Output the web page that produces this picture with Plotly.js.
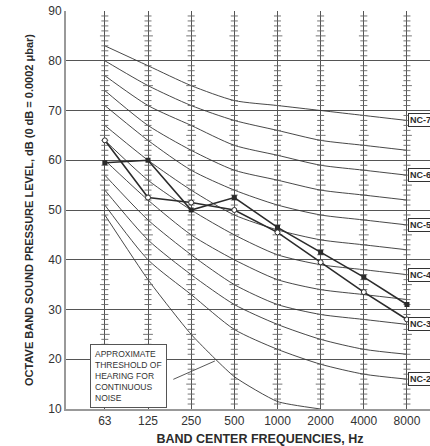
<!DOCTYPE html>
<html><head><meta charset="utf-8">
<script src="https://cdn.plot.ly/plotly-3.0.1.min.js"></script>
<style>html,body{margin:0;padding:0;overflow:hidden;background:#fff}#chart{width:455px;height:446px}</style>
</head><body><div id="chart"></div>
<script>
// Octave band centre frequencies (category labels)
const freqLabels = ['63','125','250','500','1000','2000','4000','8000'];
// NC curves (dB per band)
const nc70 = [83,79,75,72,71,70,69,68];
const nc65 = [80,75,71,68,66,64,63,62];
const nc60 = [77,71,67,63,61,59,58,57];
const nc55 = [74,67,62,58,56,54,53,52];
const nc50 = [71,64,58,54,51,49,48,47];
const nc45 = [67,60,54,49,46,44,43,42];
const nc40 = [64,56,50,45,41,39,38,37];
const nc35 = [60,52,45,40,36,34,33,32];
const nc30 = [57,48,41,35,31,29,28,27];
const nc25 = [54,44,37,31,27,24,22,21];
const nc20 = [51,40,33,26,22,19,17,16];
const ncNames = ['NC-70','NC-65','NC-60','NC-55','NC-50','NC-45','NC-40','NC-35','NC-30','NC-25','NC-20'];
const labelledNC = ['NC-70','NC-60','NC-50','NC-40','NC-30','NC-20'];
// Approximate threshold of hearing for continuous noise
const thresholdFreqs = ['63','125','250','500','1000','2000'];
const thresholdLevels = [49,36,25,16.5,11.5,10];
// Measured spectra
const measuredA = [59.5,60,50,52.5,46.5,41.5,36.5,31];   // filled markers
const measuredB = [64,52.5,51.5,50,45.5,39.5,33.5,28];   // open markers
const yTicks = [10,20,30,40,50,60,70,80,90];

const ncSets = [nc70,nc65,nc60,nc55,nc50,nc45,nc40,nc35,nc30,nc25,nc20];
const idx = f => freqLabels.indexOf(f);
const xs = freqLabels.map((f,i)=>i);
const ink = '#2b2b2b', grid = '#555';
const FONT = 'Liberation Sans, Arial, sans-serif';

const traces = [];
ncSets.forEach((arr,k)=>{
  traces.push({x:xs, y:arr, mode:'lines', type:'scatter', name:ncNames[k],
    line:{color:'#333', width:0.9, shape:'spline', smoothing:0.7}, hoverinfo:'skip', showlegend:false});
});
traces.push({x:thresholdFreqs.map(idx), y:thresholdLevels, mode:'lines', type:'scatter',
  line:{color:'#333', width:0.9, shape:'spline', smoothing:0.5}, hoverinfo:'skip', showlegend:false});
// 1-dB tick marks on each band line (longer at 5-dB steps)
const tx=[], ty=[], mx=[], my=[];
xs.forEach(x=>{ for(let d=yTicks[0]+1; d<yTicks[yTicks.length-1]; d++){
  if(d%10===0) continue;
  if(d%5===0){ mx.push(x); my.push(d);} else { tx.push(x); ty.push(d);} } });
traces.push({x:tx, y:ty, mode:'markers', type:'scatter', hoverinfo:'skip', showlegend:false,
  marker:{symbol:'line-ew', size:5, line:{width:0.9, color:'#666'}}});
traces.push({x:mx, y:my, mode:'markers', type:'scatter', hoverinfo:'skip', showlegend:false,
  marker:{symbol:'line-ew', size:7, line:{width:0.9, color:'#666'}}});
traces.push({x:xs, y:measuredA, mode:'lines+markers', type:'scatter', showlegend:false,
  line:{color:ink, width:1.6}, marker:{symbol:'square', size:5, color:ink}});
traces.push({x:xs, y:measuredB, mode:'lines+markers', type:'scatter', showlegend:false,
  line:{color:ink, width:1.6}, marker:{symbol:'circle', size:5, color:'#fff', line:{color:ink, width:1}}});

const annotations = labelledNC.map(n=>{
  const arr = ncSets[ncNames.indexOf(n)];
  return {x:7, y:arr[7], xref:'x', yref:'y', text:'<b>'+n+'</b>', showarrow:false,
    xanchor:'left', xshift:1, font:{family:FONT, size:9, color:ink},
    bgcolor:'#fff', bordercolor:'#333', borderwidth:1, borderpad:1};
});
const boxX = 0.544, boxY = 16.73;
annotations.push({x:boxX, y:boxY, xref:'x', yref:'y', showarrow:false, align:'left',
  text:'APPROXIMATE<br>THRESHOLD OF<br>HEARING FOR<br>CONTINUOUS<br>NOISE',
  font:{family:FONT, size:8.5, color:'#333'}, bgcolor:'#fff', bordercolor:'#555', borderwidth:1, borderpad:4});
annotations.push({x:2.549, y:19.65, xref:'x', yref:'y', axref:'x', ayref:'y', ax:1.552, ay:15.83,
  text:'', showarrow:true, arrowhead:0, arrowwidth:0.9, arrowcolor:'#444', standoff:0, startstandoff:0});

const layout = {
  width:455, height:446,
  margin:{l:66, r:1, t:11, b:37},
  paper_bgcolor:'#fff', plot_bgcolor:'#fff',
  font:{family:FONT, color:ink},
  showlegend:false,
  xaxis:{range:[-0.9,8.09], tickvals:xs, ticktext:freqLabels, showgrid:true, gridcolor:grid, gridwidth:1,
    zeroline:false, showline:true, linecolor:'#999', linewidth:2, ticks:'', tickfont:{size:12, color:'#333'},
    title:{text:'<b>BAND CENTER FREQUENCIES, Hz</b>', font:{size:12.5, color:ink}, standoff:8}},
  yaxis:{range:[10,90], tickvals:yTicks, showgrid:true, gridcolor:grid, gridwidth:1, zeroline:false,
    showline:true, linecolor:'#999', linewidth:2, ticks:'', tickfont:{size:12, color:'#333'},
    title:{text:'<b>OCTAVE BAND SOUND PRESSURE LEVEL, dB (0 dB = 0.0002 μbar)</b>', font:{size:11, color:ink}, standoff:12}},
  annotations
};
Plotly.newPlot('chart', traces, layout, {staticPlot:true, displayModeBar:false});
</script></body></html>
